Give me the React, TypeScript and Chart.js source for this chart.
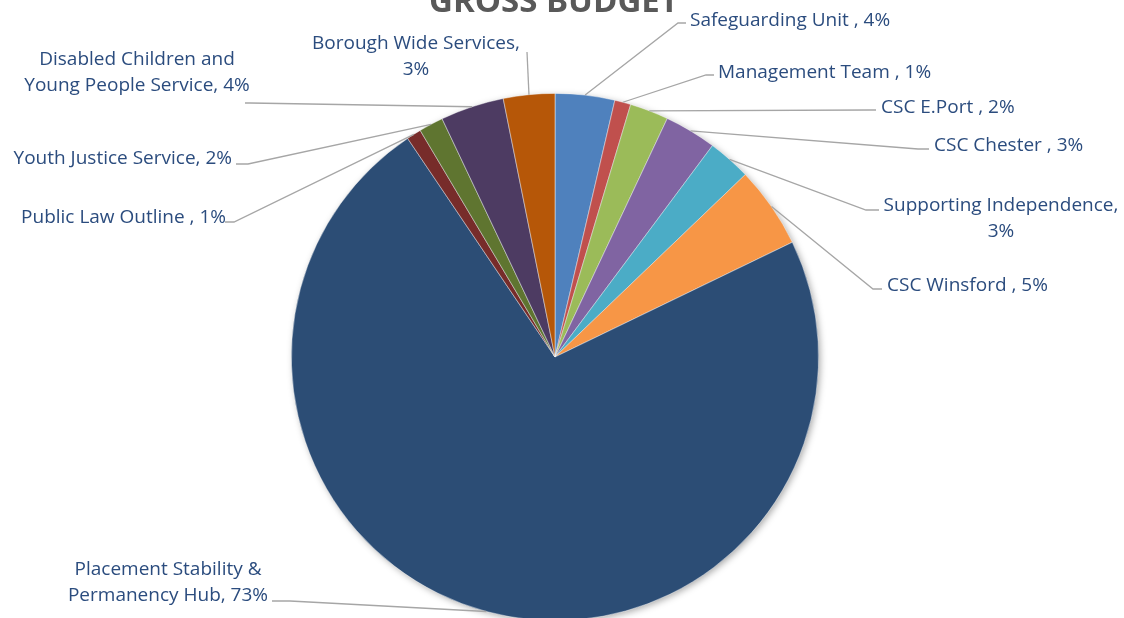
import React, { useEffect, useRef } from "react";
import { Chart, registerables } from "chart.js";

Chart.register(...registerables);

const categories = [
  "Safeguarding Unit",
  "Management Team",
  "CSC E.Port",
  "CSC Chester",
  "Supporting Independence",
  "CSC Winsford",
  "Placement Stability & Permanency Hub",
  "Public Law Outline",
  "Youth Justice Service",
  "Disabled Children and Young People Service",
  "Borough Wide Services",
];

const budgetShare = [3.65, 0.99, 2.37, 3.19, 2.65, 5.0, 72.8, 0.9, 1.5, 3.9, 3.15];

const labelTexts = [
  ["Safeguarding Unit , 4%"],
  ["Management Team , 1%"],
  ["CSC E.Port , 2%"],
  ["CSC Chester , 3%"],
  ["Supporting Independence,", "3%"],
  ["CSC Winsford , 5%"],
  ["Placement Stability &", "Permanency Hub, 73%"],
  ["Public Law Outline , 1%"],
  ["Youth Justice Service, 2%"],
  ["Disabled Children and", "Young People Service, 4%"],
  ["Borough Wide Services,", "3%"],
];

const sliceColors = [
  "#4F81BD",
  "#C0504D",
  "#9BBB59",
  "#8064A2",
  "#4BACC6",
  "#F79646",
  "#2C4D75",
  "#772C2A",
  "#5F7530",
  "#4D3B62",
  "#B65708",
];

const TITLE = "GROSS BUDGET";

// label layout: elbow point (ex, ey), leader end x (hx), text anchor (tx, ty), alignment
const labelLayout = [
  { ex: 678, ey: 23, hx: 686, tx: 690, ty: 19, align: "left" },
  { ex: 706, ey: 75, hx: 714, tx: 718, ty: 71, align: "left" },
  { ex: 870, ey: 110, hx: 876, tx: 881, ty: 106, align: "left" },
  { ex: 918, ey: 149, hx: 929, tx: 934, ty: 144, align: "left" },
  { ex: 866, ey: 210, hx: 879, tx: 1001, ty: 204, align: "center" },
  { ex: 873, ey: 289, hx: 882, tx: 887, ty: 284, align: "left" },
  { ex: 290, ey: 601, hx: 272, tx: 168, ty: 568, align: "center" },
  { ex: 234, ey: 222, hx: 225, tx: 226, ty: 216, align: "right" },
  { ex: 248, ey: 164, hx: 236, tx: 232, ty: 157, align: "right" },
  { ex: 250, ey: 103, hx: 245, tx: 137, ty: 58, align: "center" },
  { ex: 527, ey: 52, hx: 527, tx: 416, ty: 42, align: "center" },
];

const FONT = "'Open Sans', 'Noto Sans', sans-serif";

const labelPlugin = {
  id: "excelLabels",
  beforeDatasetsDraw(chart: any) {
    const meta = chart.getDatasetMeta(0);
    const el = meta.data[0];
    if (!el) return;
    const { x, y, outerRadius } = el.getProps(["x", "y", "outerRadius"], true);
    const ctx = chart.ctx;
    ctx.save();
    ctx.shadowColor = "rgba(0,0,0,0.35)";
    ctx.shadowBlur = 7;
    ctx.shadowOffsetX = 2;
    ctx.shadowOffsetY = 2;
    ctx.fillStyle = "#2C4D75";
    ctx.beginPath();
    ctx.arc(x, y, outerRadius - 0.5, 0, Math.PI * 2);
    ctx.fill();
    ctx.restore();
  },
  afterDatasetsDraw(chart: any) {
    const ctx = chart.ctx;
    const meta = chart.getDatasetMeta(0);
    ctx.save();
    // title
    ctx.fillStyle = "#595959";
    ctx.font = `bold 33px ${FONT}`;
    ctx.textAlign = "center";
    ctx.textBaseline = "alphabetic";
    ctx.fillText(TITLE, 554, 12);

    meta.data.forEach((arc: any, i: number) => {
      const p = arc.getProps(["x", "y", "startAngle", "endAngle", "outerRadius"], true);
      const mid = (p.startAngle + p.endAngle) / 2;
      const sx = p.x + Math.cos(mid) * p.outerRadius;
      const sy = p.y + Math.sin(mid) * p.outerRadius;
      const L = labelLayout[i];
      ctx.strokeStyle = "#A6A6A6";
      ctx.lineWidth = 1.3;
      ctx.beginPath();
      ctx.moveTo(sx, sy);
      ctx.lineTo(L.ex, L.ey);
      ctx.lineTo(L.hx, L.ey);
      ctx.stroke();

      ctx.fillStyle = "#2B4C7E";
      ctx.font = `19px ${FONT}`;
      ctx.textAlign = L.align;
      ctx.textBaseline = "middle";
      labelTexts[i].forEach((t, j) => {
        ctx.fillText(t, L.tx, L.ty + 1.5 + j * 26.5);
      });
    });
    ctx.restore();
  },
};

export default function App() {
  const ref = useRef<HTMLCanvasElement>(null);
  useEffect(() => {
    if (!ref.current) return;
    const chart = new Chart(ref.current, {
      type: "pie",
      data: {
        labels: categories,
        datasets: [
          {
            data: budgetShare,
            backgroundColor: sliceColors,
            borderColor: "rgba(255,255,255,0.6)",
            borderWidth: 0.75,
          },
        ],
      },
      options: {
        responsive: false,
        animation: false,
        layout: { padding: { left: 291, right: 305, top: 93, bottom: 19 } },
        plugins: {
          legend: { display: false },
          tooltip: { enabled: false },
          title: { display: false },
        },
      },
      plugins: [labelPlugin],
    });
    return () => chart.destroy();
  }, []);
  return (
    <div
      style={{
        position: "fixed",
        left: 0,
        top: 0,
        width: 1124,
        height: 618,
        overflow: "hidden",
        background: "#fff",
      }}
    >
      <canvas ref={ref} width={1124} height={640} style={{ display: "block" }} />
    </div>
  );
}
